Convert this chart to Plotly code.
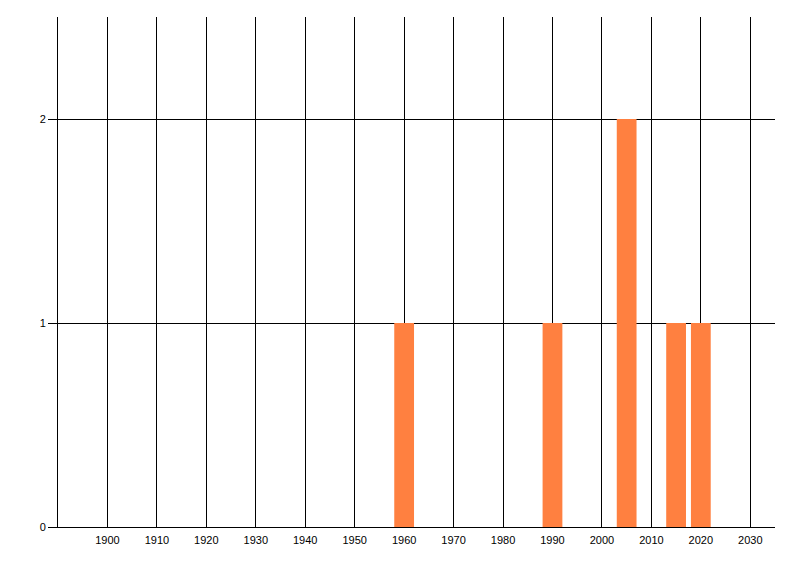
import plotly.graph_objects as go

years = [1960, 1990, 2005, 2015, 2020]
counts = [1, 1, 2, 1, 1]
x_tick_vals = [1900, 1910, 1920, 1930, 1940, 1950, 1960, 1970, 1980, 1990, 2000, 2010, 2020, 2030]
x_tick_text = [str(v) for v in x_tick_vals]
y_tick_vals = [0, 1, 2]

fig = go.Figure()
fig.add_trace(go.Bar(x=years, y=counts, width=[4] * len(years),
                     marker=dict(color="#FF8040", line=dict(width=0))))

fig.update_layout(
    width=800, height=576,
    margin=dict(l=50, r=33, t=9, b=57),
    paper_bgcolor="white", plot_bgcolor="white",
    showlegend=False,
    font=dict(family="Liberation Sans, Arial, sans-serif", size=11, color="black"),
    xaxis=dict(range=[1890, 2035], tickvals=x_tick_vals, ticktext=x_tick_text,
               showgrid=True, gridcolor="black", gridwidth=1,
               showline=True, linecolor="black", linewidth=1,
               ticks="", ticklabelstandoff=3, zeroline=False, fixedrange=True),
    yaxis=dict(range=[0, 2.5], tickvals=y_tick_vals,
               showgrid=True, gridcolor="black", gridwidth=1,
               showline=True, linecolor="black", linewidth=1,
               ticks="outside", ticklen=9, tickcolor="black",
               zeroline=False, fixedrange=True),
)

fig.write_html("out.html")
